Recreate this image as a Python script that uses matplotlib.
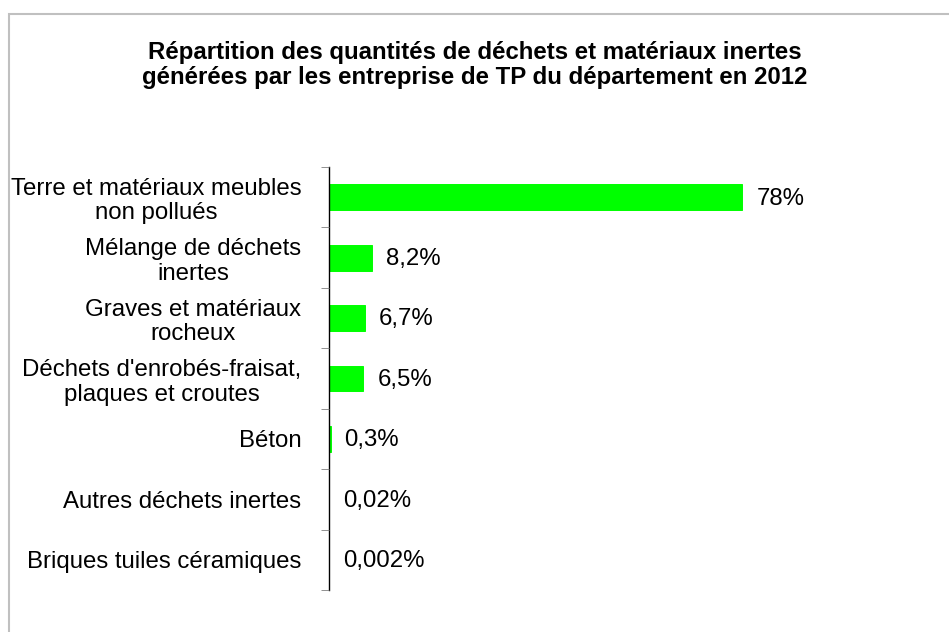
import matplotlib
matplotlib.use("Agg")
from matplotlib import pyplot as plt
from matplotlib.patches import Rectangle

# données
categories = ["Terre et matériaux meubles\nnon pollués",
              "Mélange de déchets\ninertes",
              "Graves et matériaux\nrocheux",
              "Déchets d'enrobés-fraisat,\nplaques et croutes",
              "Béton",
              "Autres déchets inertes",
              "Briques tuiles céramiques"]
values = [78, 8.2, 6.7, 6.5, 0.3, 0.02, 0.002]
value_labels = ["78%", "8,2%", "6,7%", "6,5%", "0,3%", "0,02%", "0,002%"]

plt.rcParams['font.family'] = ['Liberation Sans', 'DejaVu Sans']

fig = plt.figure(figsize=(9.49, 6.32), dpi=100)

# cadre gris
fig.patches.append(Rectangle((9 / 949, -0.1), 1.2, 1 - 14 / 632 + 0.1,
                             transform=fig.transFigure, fill=False,
                             edgecolor='#c0c0c0', linewidth=1.5))

ax = fig.add_axes([329 / 949, 1 - 590 / 632, 530 / 949, (590 - 167) / 632])

y = list(range(len(categories)))
# petit contour vert pour que les très petites barres restent visibles
ax.barh(y, values, height=0.43, color='#00ff00', edgecolor='#00ff00',
        linewidth=0.7)

for yi, v, lab in zip(y, values, value_labels):
    ax.annotate(lab, (v, yi), xytext=(10, -1), textcoords='offset points',
                va='center', ha='left', fontsize=17.3)

ax.set_xlim(0, 100)
ax.set_ylim(len(categories) - 0.5, -0.5)

ax.set_yticks(y)
ax.set_yticklabels(categories, fontsize=17.3, multialignment='center',
                   linespacing=1.15)
ax.set_yticks([k - 0.5 for k in range(len(categories) + 1)], minor=True)
ax.tick_params(axis='y', which='major', length=0, pad=20)
ax.tick_params(axis='y', which='minor', length=6, color='#808080')
ax.set_xticks([])

for s in ['top', 'right', 'bottom']:
    ax.spines[s].set_visible(False)
ax.spines['left'].set_linewidth(1)
ax.spines['left'].set_zorder(1)

fig.text(0.5, 1 - 65 / 632,
         "Répartition des quantités de déchets et matériaux inertes\n"
         "générées par les entreprise de TP du département en 2012",
         ha='center', va='center', fontsize=17.3, fontweight='bold',
         linespacing=1.1)

plt.savefig('out.png')
